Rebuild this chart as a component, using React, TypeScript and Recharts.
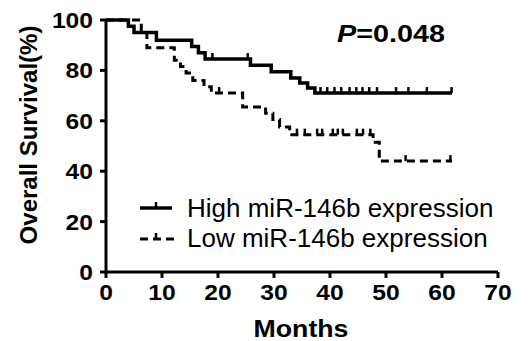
import { LineChart, Line, XAxis, YAxis } from "recharts";

// Kaplan-Meier steps (months, % surviving)
const highEventMonths = [0, 4, 5, 9, 15.3, 16.5, 17.7, 25.8, 29.5, 33, 34.6, 36, 37.3, 61.8];
const highSurvival = [100, 97.5, 95, 92, 89.5, 87, 84.5, 82, 79.5, 77, 75, 73, 71, 71];
const highCensorMonths = [19, 25.3, 38.3, 39.5, 40.8, 42, 43.5, 44.7, 45.8, 47, 48.4, 51.8, 54, 57.3, 61.7];

const lowEventMonths = [0, 6.3, 7.3, 12.2, 13.3, 14.3, 15.5, 17.5, 18.8, 24.4, 28.5, 29.8, 31, 32.8, 47.7, 48.8, 61.8];
const lowSurvival = [100, 95, 89, 84, 81.5, 79, 76, 73.5, 71, 65.5, 63, 60.5, 57.5, 54.5, 51.5, 44, 44];
const lowCensorMonths = [20.2, 34.1, 35.5, 37.7, 38.6, 40.5, 41.4, 42.3, 44.8, 45.9, 47.2, 53.5, 61.5];

const xTicks = [0, 10, 20, 30, 40, 50, 60, 70];
const yTicks = [0, 20, 40, 60, 80, 100];
const legendLabels = ["High miR-146b expression", "Low miR-146b expression"];
const pValue = "=0.048";

const FONT = '"Liberation Sans", Arial, Helvetica, sans-serif';

type Pt = { t: number; s: number; c: boolean };

function buildCurve(months: number[], surv: number[], censor: number[]): Pt[] {
  const pts: Pt[] = months.map((t, i) => ({ t, s: surv[i], c: false }));
  censor.forEach((t) => {
    let s = surv[0];
    months.forEach((m, i) => {
      if (m <= t) s = surv[i];
    });
    pts.push({ t, s, c: true });
  });
  return pts.sort((a, b) => a.t - b.t);
}

const highData = buildCurve(highEventMonths, highSurvival, highCensorMonths);
const lowData = buildCurve(lowEventMonths, lowSurvival, lowCensorMonths);

const censorDot = (props: any) => {
  const { cx, cy, payload, index } = props;
  if (!payload || !payload.c) return <g key={`d-${index}`} />;
  return (
    <line key={`d-${index}`} x1={cx} x2={cx} y1={cy} y2={cy - 6} stroke="#000" strokeWidth={2.5} />
  );
};

const YTick = ({ x, y, payload }: any) => (
  <g transform={`translate(${x},${y}) scale(1.12,1)`}>
    <text textAnchor="end" dy="0.36em" fontSize={22} fontWeight="bold" fill="#000" fontFamily={FONT}>
      {payload.value}
    </text>
  </g>
);

const XTick = ({ x, y, payload }: any) => (
  <g transform={`translate(${x},${y}) scale(1.12,1)`}>
    <text textAnchor="middle" y={20} fontSize={22} fontWeight="bold" fill="#000" fontFamily={FONT}>
      {payload.value}
    </text>
  </g>
);

const axisStroke = { stroke: "#000", strokeWidth: 3 };

export default function App() {
  return (
    <div style={{ position: "absolute", left: 0, top: 0, background: "#fff" }}>
      <LineChart width={530} height={341} margin={{ top: 20, right: 32, left: 0, bottom: 0 }}>
        <XAxis
          type="number"
          dataKey="t"
          domain={[0, 70]}
          ticks={xTicks}
          allowDuplicatedCategory={false}
          height={69}
          tickSize={6}
          tickMargin={2}
          axisLine={axisStroke}
          tickLine={axisStroke}
          tick={<XTick />}
          interval={0}
        />
        <YAxis
          type="number"
          domain={[0, 100]}
          ticks={yTicks}
          width={106}
          tickSize={6}
          tickMargin={7}
          axisLine={axisStroke}
          tickLine={axisStroke}
          tick={<YTick />}
          interval={0}
        />
        <Line
          data={highData}
          dataKey="s"
          type="stepAfter"
          stroke="#000"
          strokeWidth={3.5}
          dot={censorDot}
          activeDot={false}
          isAnimationActive={false}
        />
        <Line
          data={lowData}
          dataKey="s"
          type="stepAfter"
          stroke="#000"
          strokeWidth={3}
          strokeDasharray="8 5"
          dot={censorDot}
          activeDot={false}
          isAnimationActive={false}
        />

        <text
          transform="translate(37,135) rotate(-90)"
          textAnchor="middle"
          fontSize={24}
          fontWeight="bold"
          fontFamily={FONT}
          fill="#000"
        >
          Overall Survival(%)
        </text>
        <g transform="translate(301,337) scale(1.16,1)">
          <text textAnchor="middle" fontSize={23} fontWeight="bold" fontFamily={FONT} fill="#000">
            Months
          </text>
        </g>
        <g transform="translate(337,42) scale(1.2,1)">
          <text fontSize={24} fontWeight="bold" fontFamily={FONT} fill="#000">
            <tspan fontStyle="italic">P</tspan>
            {pValue}
          </text>
        </g>

        <line x1={140} x2={172} y1={208} y2={208} stroke="#000" strokeWidth={3.5} />
        <line x1={156} x2={156} y1={208} y2={202} stroke="#000" strokeWidth={2.5} />
        <line x1={140} x2={174} y1={239} y2={239} stroke="#000" strokeWidth={3} strokeDasharray="8 5" />
        <line x1={156} x2={156} y1={239} y2={233} stroke="#000" strokeWidth={2.5} />
        <text x={187} y={217} fontSize={26} fontFamily={FONT} fill="#000">
          {legendLabels[0]}
        </text>
        <text x={187} y={247} fontSize={26} fontFamily={FONT} fill="#000">
          {legendLabels[1]}
        </text>
      </LineChart>
    </div>
  );
}
